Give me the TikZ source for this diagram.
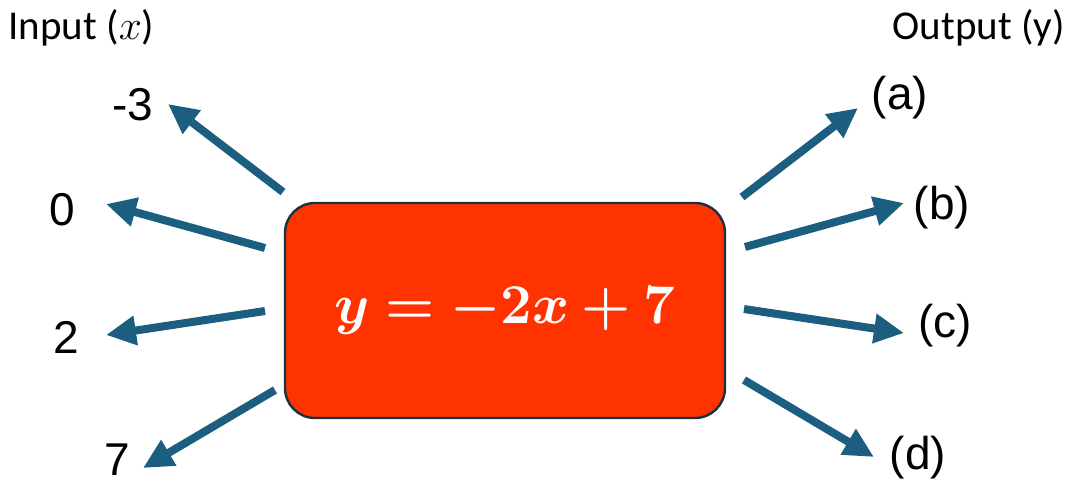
\documentclass[tikz,border=0pt]{standalone}
\usepackage{amsmath}
\usepackage{graphicx}
\usepackage{bm}
\usepackage{fontspec}
\setmainfont{Liberation Sans}
\newfontfamily\headfont{Carlito}
\usepackage{tikz}
\usetikzlibrary{arrows.meta}

\definecolor{boxred}{RGB}{255,51,0}
\definecolor{boxrim}{RGB}{28,48,66}
\definecolor{flowblue}{RGB}{27,94,128}

\tikzset{
  flow/.style={line width=4pt, flowblue, -{Triangle[length=15pt,width=14pt]}},
  numlab/.style={inner sep=0pt, font=\fontsize{23}{27}\selectfont},
  headlab/.style={inner sep=0pt, font=\headfont\fontsize{20.5}{24}\selectfont}
}

\begin{document}
\begin{tikzpicture}[x=0.5pt,y=-0.5pt]
\useasboundingbox (0,0) rectangle (1072,483);
% headers
\node[headlab, anchor=west] (inhead) at (8,28) {Input ($x$)};
\node[headlab, anchor=east] (outhead) at (1065,28) {Output (y)};
% function box
\node[draw=boxrim, line width=1.2pt, fill=boxred, rounded corners=15pt,
      minimum width=220pt, minimum height=107.5pt, inner sep=0pt] (eq) at (505,310.5)
      {\color{white}\fontsize{24.88}{30}\selectfont\scalebox{1.13}{$\bm{y=-2x+7}$}};
% inputs
\node[numlab] (in1) at (133,105) {-3};
\node[numlab] (in2) at (62,210) {0};
\node[numlab] (in3) at (66,337) {2};
\node[numlab] (in4) at (117,460) {7};
% outputs
\node[numlab] (out1) at (900,98) {(a)};
\node[numlab] (out2) at (942,208) {(b)};
\node[numlab] (out3) at (945,326) {(c)};
\node[numlab] (out4) at (918,458) {(d)};
% arrow ends
\coordinate (it1) at (283,192); \coordinate (ih1) at (168,104);
\coordinate (it2) at (265,248); \coordinate (ih2) at (106,204);
\coordinate (it3) at (265,311); \coordinate (ih3) at (106,335);
\coordinate (it4) at (275,390); \coordinate (ih4) at (143,468);
\coordinate (ot1) at (742,197); \coordinate (oh1) at (858,108);
\coordinate (ot2) at (745,247); \coordinate (oh2) at (904,203);
\coordinate (ot3) at (744,309); \coordinate (oh3) at (904,333);
\coordinate (ot4) at (744,380); \coordinate (oh4) at (874,457);
% arrows
\foreach \n in {1,...,4}{
  \draw[flow] (it\n) -- (ih\n);
  \draw[flow] (ot\n) -- (oh\n);
}
\end{tikzpicture}
\end{document}
